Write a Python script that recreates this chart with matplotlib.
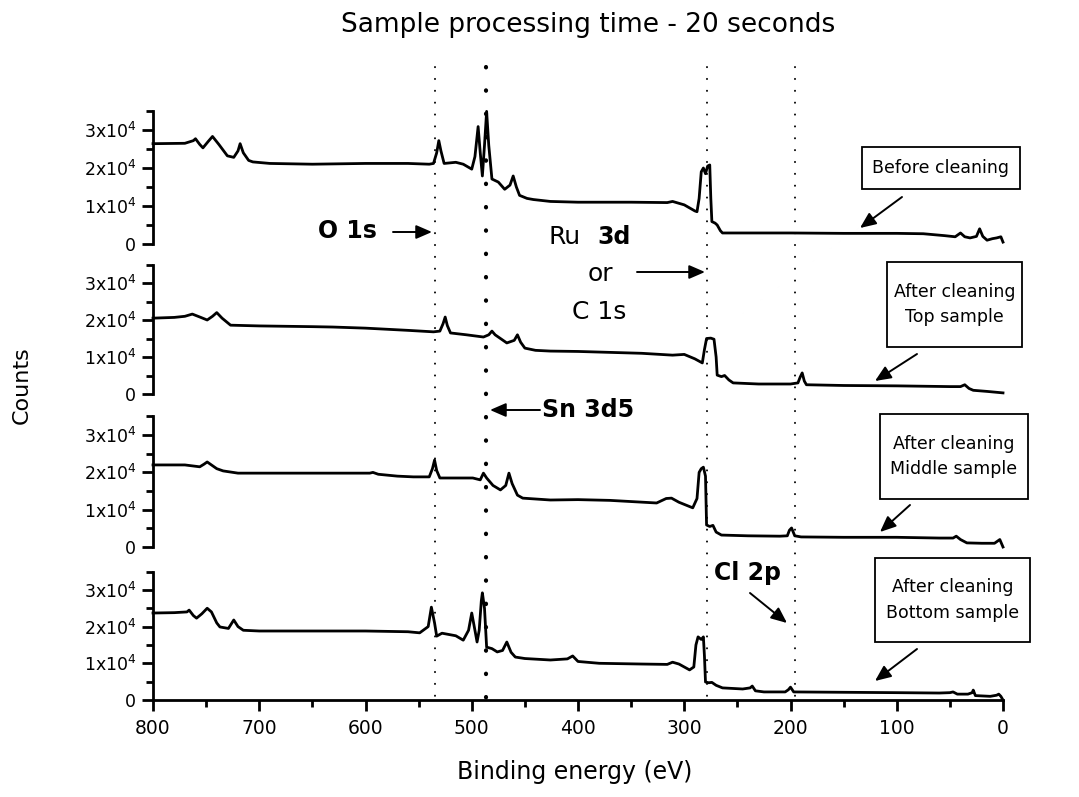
import matplotlib
matplotlib.use('Agg')
import matplotlib.pyplot as plt
from matplotlib.patches import Rectangle, FancyArrowPatch
from matplotlib.lines import Line2D
from matplotlib.ticker import FixedLocator, MultipleLocator
import matplotlib.transforms as mtransforms

plt.rcParams['font.family'] = ['DejaVu Sans']
plt.rcParams['mathtext.default'] = 'regular'

# ---------------- data (binding energy in eV, counts) ----------------
title = "Sample processing time - 20 seconds"
xlabel = "Binding energy (eV)"
ylabel = "Counts"
box_labels = ["Before cleaning", "After cleaning\nTop sample",
              "After cleaning\nMiddle sample", "After cleaning\nBottom sample"]
ytick_values = [0, 10000, 20000, 30000]
ytick_labels = ["0", "1x10$^4$", "2x10$^4$", "3x10$^4$"]
xtick_values = [800, 700, 600, 500, 400, 300, 200, 100, 0]
peak_lines = [535, 487, 279, 196]   # O 1s, Sn 3d5, Ru 3d / C 1s, Cl 2p

before_E = [800, 770, 762, 760, 756, 753, 748, 744, 738, 730, 724, 720, 718, 715, 710, 706,
            690, 650, 600, 560, 540, 536, 533, 531, 529, 526, 515, 508, 500, 497, 494, 492,
            490, 488, 486, 484, 481, 475, 469, 464, 461, 458, 455, 448, 442, 426, 400, 350,
            316, 311, 300, 290, 288, 286, 284, 282, 280, 278, 276, 275, 274, 271, 269, 266,
            264, 240, 200, 150, 100, 75, 55, 45, 40, 36, 31, 25, 22, 19, 15, 10, 6, 2, 0]
before_C = [2.64, 2.65, 2.72, 2.77, 2.62, 2.53, 2.70, 2.83, 2.62, 2.32, 2.28, 2.45, 2.64, 2.40, 2.20, 2.16,
            2.12, 2.10, 2.12, 2.12, 2.10, 2.12, 2.40, 2.72, 2.45, 2.12, 2.15, 2.10, 1.97, 2.30, 3.09, 2.40,
            1.79, 2.60, 3.49, 2.60, 1.71, 1.63, 1.44, 1.55, 1.79, 1.50, 1.28, 1.20, 1.17, 1.12, 1.10, 1.10,
            1.09, 1.12, 1.03, 0.87, 0.85, 1.20, 1.90, 2.00, 1.85, 2.05, 2.08, 1.20, 0.59, 0.55, 0.50, 0.35,
            0.29, 0.29, 0.29, 0.28, 0.28, 0.27, 0.22, 0.19, 0.29, 0.19, 0.16, 0.20, 0.40, 0.20, 0.10, 0.14, 0.16, 0.19, 0.05]

top_E = [800, 780, 770, 763, 755, 749, 744, 740, 735, 727, 700, 650, 631, 600, 560, 536,
         530, 527, 525, 523, 520, 505, 489, 484, 481, 478, 473, 467, 460, 457, 454, 450,
         440, 426, 400, 340, 311, 300, 290, 283, 281, 279, 275, 272, 270, 269, 265, 262,
         258, 254, 230, 200, 193, 191, 189, 187, 185, 150, 100, 50, 40, 36, 32, 28, 15, 0]
top_C = [2.05, 2.07, 2.10, 2.16, 2.07, 2.00, 2.10, 2.20, 2.05, 1.86, 1.84, 1.82, 1.81, 1.78, 1.72, 1.68,
         1.70, 1.90, 2.08, 1.85, 1.65, 1.60, 1.54, 1.60, 1.70, 1.60, 1.50, 1.38, 1.45, 1.60, 1.40, 1.24,
         1.18, 1.16, 1.15, 1.10, 1.05, 1.07, 0.95, 0.84, 1.20, 1.50, 1.51, 1.48, 1.00, 0.51, 0.47, 0.50,
         0.38, 0.30, 0.27, 0.27, 0.30, 0.45, 0.57, 0.35, 0.25, 0.23, 0.22, 0.20, 0.20, 0.25, 0.15, 0.10, 0.07, 0.03]

middle_E = [800, 780, 770, 756, 752, 749, 745, 740, 734, 720, 680, 620, 596, 593, 588, 570,
            555, 540, 537, 535, 533, 530, 515, 499, 492, 489, 486, 480, 473, 468, 465, 462,
            457, 452, 426, 400, 370, 326, 317, 312, 305, 292, 288, 286, 284, 282, 280, 279,
            276, 273, 270, 265, 240, 210, 203, 201, 199, 196, 190, 150, 100, 60, 47, 44,
            40, 34, 20, 8, 3, 0]
middle_C = [2.20, 2.20, 2.20, 2.15, 2.22, 2.28, 2.20, 2.10, 2.04, 1.98, 1.98, 1.98, 1.98, 2.00, 1.95, 1.90,
            1.88, 1.88, 2.10, 2.33, 2.05, 1.85, 1.85, 1.85, 1.80, 1.98, 1.85, 1.65, 1.53, 1.65, 1.98, 1.70,
            1.39, 1.31, 1.26, 1.27, 1.25, 1.18, 1.30, 1.31, 1.20, 1.05, 1.30, 2.00, 2.10, 2.14, 1.90, 0.59,
            0.55, 0.58, 0.40, 0.32, 0.30, 0.29, 0.30, 0.45, 0.51, 0.30, 0.27, 0.26, 0.26, 0.24, 0.24, 0.29,
            0.20, 0.11, 0.10, 0.10, 0.20, 0.00]

bottom_E = [800, 780, 768, 766, 762, 759, 754, 749, 745, 740, 737, 729, 724, 720, 715, 700,
            650, 600, 560, 549, 541, 538, 535, 533, 528, 515, 508, 503, 500, 497, 495, 493,
            491, 490, 488, 486, 481, 476, 471, 467, 463, 459, 450, 426, 410, 405, 400, 380,
            340, 316, 311, 305, 295, 291, 289, 287, 284, 282, 281, 280, 277, 274, 270, 264,
            245, 238, 236, 233, 225, 205, 202, 200, 197, 150, 100, 60, 50, 47, 43, 33,
            29, 28, 26, 12, 6, 4, 2, 0]
bottom_C = [2.37, 2.38, 2.40, 2.45, 2.30, 2.23, 2.35, 2.50, 2.40, 2.10, 1.99, 1.95, 2.18, 2.00, 1.90, 1.88,
            1.88, 1.88, 1.86, 1.83, 2.00, 2.53, 2.10, 1.74, 1.82, 1.75, 1.63, 1.90, 2.37, 1.90, 1.58, 1.90,
            2.70, 2.92, 2.50, 1.44, 1.40, 1.31, 1.35, 1.58, 1.30, 1.17, 1.13, 1.09, 1.12, 1.20, 1.05, 1.00,
            0.98, 0.97, 1.03, 0.98, 0.82, 0.90, 1.50, 1.72, 1.65, 1.72, 1.20, 0.49, 0.47, 0.48, 0.40, 0.33,
            0.30, 0.33, 0.38, 0.25, 0.22, 0.22, 0.28, 0.35, 0.22, 0.21, 0.20, 0.19, 0.20, 0.22, 0.16, 0.16,
            0.20, 0.27, 0.12, 0.10, 0.13, 0.16, 0.10, 0.00]

series_E = [before_E, top_E, middle_E, bottom_E]
series_C = [before_C, top_C, middle_C, bottom_C]
count_unit = 1e4

# ---------------- layout (pixels, measured from top-left) ----------------
W, H = 1079, 797
fig = plt.figure(figsize=(W / 100, H / 100), dpi=100)
fig.patch.set_facecolor('white')

def fx(x):
    return x / W

def fy(y):
    return 1 - y / H

x_left, x_right = 153, 1003
panel_zero = [244, 394, 547, 700]        # pixel row of y = 0
panel_ppu = [38.0, 37.0, 37.3, 36.7]      # pixels per 1e4 counts
ytop = 35000

axes = []
for i in range(4):
    h = ppu = panel_ppu[i] * ytop / 1e4
    ax = fig.add_axes([fx(x_left), fy(panel_zero[i]), (x_right - x_left) / W, h / H])
    ax.set_facecolor('none')
    ax.set_xlim(800, 0)
    ax.set_ylim(0, ytop)
    E = series_E[i]
    C = [c * count_unit for c in series_C[i]]
    ax.plot(E, C, color='black', lw=2.0, clip_on=False, solid_joinstyle='round')
    for s in ['top', 'right']:
        ax.spines[s].set_visible(False)
    ax.spines['left'].set_linewidth(2.0)
    ax.yaxis.set_major_locator(FixedLocator(ytick_values))
    ax.set_yticklabels(ytick_labels, fontsize=12.5)
    ax.yaxis.set_minor_locator(FixedLocator([5000, 15000, 25000, 35000]))
    ax.tick_params(axis='y', which='major', direction='out', length=8, width=2, pad=4)
    ax.tick_params(axis='y', which='minor', direction='out', length=5, width=2)
    if i < 3:
        ax.spines['bottom'].set_visible(False)
        ax.set_xticks([])
    else:
        ax.spines['bottom'].set_linewidth(2.0)
        ax.set_xticks(xtick_values)
        ax.set_xticklabels([str(v) for v in xtick_values], fontsize=13.5)
        ax.xaxis.set_minor_locator(MultipleLocator(50))
        ax.tick_params(axis='x', which='major', direction='out', length=8, width=2, pad=6)
        ax.tick_params(axis='x', which='minor', direction='out', length=5, width=2)
    axes.append(ax)

ax_bottom = axes[-1]

# vertical dotted marker lines spanning all panels
blend = mtransforms.blended_transform_factory(ax_bottom.transData, fig.transFigure)
for k, e in enumerate(peak_lines):
    if k == 1:
        ln = Line2D([e, e], [fy(67), fy(700)], transform=blend, color='black', lw=3.0,
                    linestyle=(0, (0.1, 5.5)), dash_capstyle='round')
    else:
        ln = Line2D([e, e], [fy(67), fy(700)], transform=blend, color='black', lw=1.4,
                    linestyle=(0, (0.1, 6.0)), dash_capstyle='round')
    fig.add_artist(ln)

# title and axis labels
fig.text(fx(588), fy(25), title, ha='center', va='center', fontsize=19)
fig.text(fx(575), fy(772), xlabel, ha='center', va='center', fontsize=17)
fig.text(fx(22), fy(385), ylabel, ha='center', va='center', fontsize=16, rotation=90)

# boxes with sample names
boxes = [(862, 147, 1020, 189), (887, 262, 1022, 347), (880, 414, 1028, 499), (875, 558, 1030, 642)]
for (x0, y0, x1, y1), lab in zip(boxes, box_labels):
    fig.add_artist(Rectangle((fx(x0), fy(y1)), (x1 - x0) / W, (y1 - y0) / H,
                             transform=fig.transFigure, facecolor='white', edgecolor='black', lw=1.3))
    fig.text(fx((x0 + x1) / 2), fy((y0 + y1) / 2), lab, ha='center', va='center',
             fontsize=12.5, linespacing=1.55)

def arrow(x0, y0, x1, y1):
    fig.add_artist(FancyArrowPatch((fx(x0), fy(y0)), (fx(x1), fy(y1)), transform=fig.transFigure,
                                   arrowstyle='-|>,head_length=6,head_width=2.6', color='black',
                                   lw=1.4, mutation_scale=1.6, shrinkA=0, shrinkB=0))

arrow(902, 197, 860, 228)
arrow(917, 354, 875, 381)
arrow(910, 505, 880, 532)
arrow(917, 649, 875, 681)

# peak annotations
fig.text(fx(347), fy(231), "O 1s", ha='center', va='center', fontsize=17, fontweight='bold')
arrow(393, 232, 432, 232)
fig.text(fx(565), fy(237), "Ru", ha='center', va='center', fontsize=18)
fig.text(fx(614), fy(237), "3d", ha='center', va='center', fontsize=17, fontweight='bold')
fig.text(fx(600), fy(274), "or", ha='center', va='center', fontsize=18)
fig.text(fx(599), fy(312), "C 1s", ha='center', va='center', fontsize=18)
arrow(637, 272, 705, 272)
fig.text(fx(588), fy(410), "Sn 3d5", ha='center', va='center', fontsize=17, fontweight='bold')
arrow(540, 410, 490, 410)
fig.text(fx(748), fy(573), "Cl 2p", ha='center', va='center', fontsize=17, fontweight='bold')
arrow(750, 593, 787, 623)

fig.savefig('out.png', dpi=100, facecolor='white')
